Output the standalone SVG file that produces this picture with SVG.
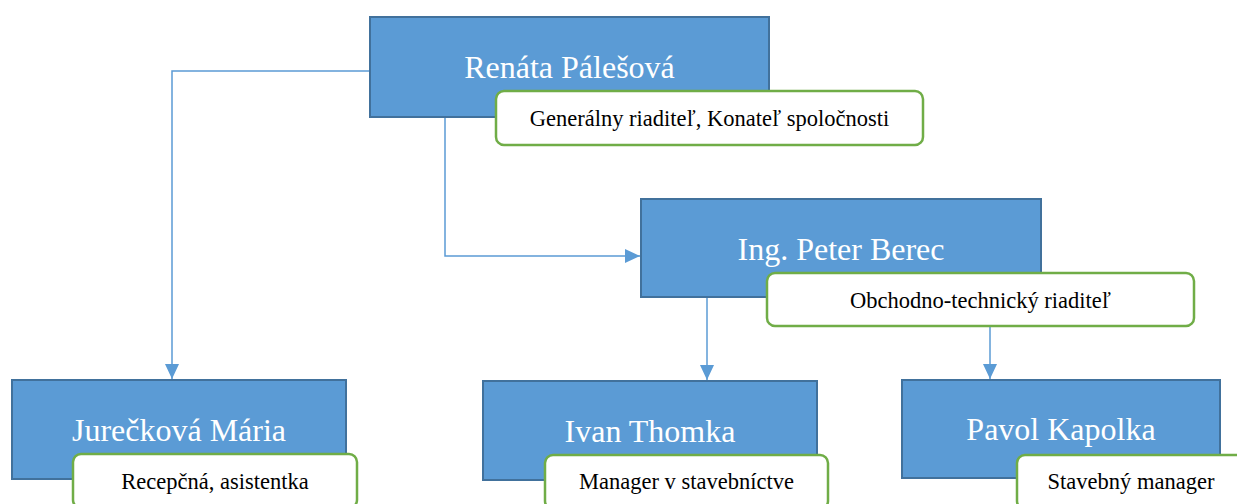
<svg xmlns="http://www.w3.org/2000/svg" width="1237" height="504" viewBox="0 0 1237 504">
<defs>
<style>
.box{fill:#5B9BD5;stroke:#41719C;stroke-width:2}
.lbl{fill:#FFFFFF;stroke:#70AD47;stroke-width:2.5}
.name{font-family:"Liberation Serif","Times New Roman",serif;font-size:32px;fill:#FFFFFF;text-anchor:middle}
.role{font-family:"Liberation Serif","Times New Roman",serif;font-size:22.5px;fill:#000000;text-anchor:middle}
.conn{fill:none;stroke:#5B9BD5;stroke-width:1.5}
</style>
<marker id="arr" markerWidth="15" markerHeight="14" refX="15" refY="7" orient="auto" markerUnits="userSpaceOnUse">
<path d="M0,0 L15,7 L0,14 Z" fill="#5B9BD5"/>
</marker>
</defs>
<rect width="1237" height="504" fill="#FFFFFF"/>
<g id="connectors">
<path class="conn" d="M370,71 H172 V379" marker-end="url(#arr)"/>
<path class="conn" d="M445,117 V256 H640" marker-end="url(#arr)"/>
<path class="conn" d="M707,297 V380" marker-end="url(#arr)"/>
<path class="conn" d="M990,326 V379" marker-end="url(#arr)"/>
</g>
<g id="renata">
<rect class="box" x="370" y="17" width="399" height="100"/>
<text class="name" x="569.5" y="78">Renáta Pálešová</text>
<rect class="lbl" x="496" y="91" width="427" height="54" rx="8"/>
<text class="role" x="709.5" y="126">Generálny riaditeľ, Konateľ spoločnosti</text>
</g>
<g id="peter">
<rect class="box" x="641" y="199" width="400" height="98"/>
<text class="name" x="841" y="260">Ing. Peter Berec</text>
<rect class="lbl" x="767" y="273" width="427" height="53" rx="8"/>
<text class="role" x="980.5" y="308">Obchodno-technický riaditeľ</text>
</g>
<g id="jureckova">
<rect class="box" x="12" y="380" width="334" height="99"/>
<text class="name" x="179" y="441">Jurečková Mária</text>
<rect class="lbl" x="73" y="454" width="284" height="54" rx="8"/>
<text class="role" x="215" y="489">Recepčná, asistentka</text>
</g>
<g id="ivan">
<rect class="box" x="483" y="381" width="334" height="99"/>
<text class="name" x="650" y="442">Ivan Thomka</text>
<rect class="lbl" x="545" y="455" width="283" height="54" rx="8"/>
<text class="role" x="686.5" y="489">Manager v stavebníctve</text>
</g>
<g id="pavol">
<rect class="box" x="902" y="380" width="318" height="98"/>
<text class="name" x="1061" y="440">Pavol Kapolka</text>
<rect class="lbl" x="1017" y="455" width="228" height="54" rx="8"/>
<text class="role" x="1131" y="489">Stavebný manager</text>
</g>
</svg>
